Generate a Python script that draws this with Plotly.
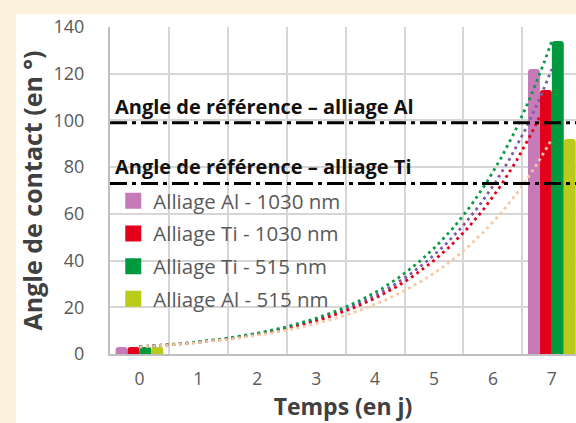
import numpy as np
import plotly.graph_objects as go

# ---- data ----
days = [0, 1, 2, 3, 4, 5, 6, 7]
series_names = ["Alliage Al - 1030 nm", "Alliage Ti - 1030 nm", "Alliage Ti - 515 nm", "Alliage Al - 515 nm"]
al_1030 = [3, None, None, None, None, None, None, 122]
ti_1030 = [3, None, None, None, None, None, None, 113]
ti_515 = [3, None, None, None, None, None, None, 134]
al_515 = [3, None, None, None, None, None, None, 92]
ref_al = 99
ref_ti = 73
ref_labels = ["Angle de référence – alliage Al", "Angle de référence – alliage Ti"]
y_ticks = [0, 20, 40, 60, 80, 100, 120, 140]

bar_colors = ["#C67BB8", "#E2001A", "#009A3E", "#BACB1C"]
trend_colors = ["#7E5BA6", "#E2001A", "#0A9A48", "#F7C7A0"]
series_values = [al_1030, ti_1030, ti_515, al_515]

W, H = 576, 423
ML, MR, MT, MB = 110, 0, 27, 69

fig = go.Figure()

# bars
for name, vals, col in zip(series_names, series_values, bar_colors):
    fig.add_trace(go.Bar(x=days, y=vals, name=name, marker=dict(color=col, cornerradius=3, line=dict(width=0)),
                         showlegend=False))

# exponential trendlines (Excel-style fit on ln(y))
xs = np.linspace(days[0], days[-1], 200)
for name, vals, col in zip(series_names, series_values, trend_colors):
    px = np.array([d for d, v in zip(days, vals) if v is not None], dtype=float)
    py = np.array([v for v in vals if v is not None], dtype=float)
    b, a = np.polyfit(px, np.log(py), 1)
    fig.add_trace(go.Scatter(x=xs, y=np.exp(a) * np.exp(b * xs), mode="lines",
                             line=dict(color=col, width=2.8, dash="2.8px,3.8px"),
                             showlegend=False, hoverinfo="skip"))

# legend entries
for i, (name, col) in enumerate(zip(series_names, bar_colors)):
    fig.add_trace(go.Scatter(x=[None], y=[None], mode="markers", name=name, legendgroup=f"g{i}",
                             marker=dict(symbol="square", size=16, color=col)))

# reference lines
for yv in (ref_al, ref_ti):
    fig.add_shape(type="line", xref="paper", x0=0, x1=1, yref="y", y0=yv, y1=yv,
                  line=dict(color="black", width=3, dash="17px,5px,4px,5px"))
for yv, txt in zip((ref_al, ref_ti), ref_labels):
    fig.add_annotation(xref="paper", x=0.006, yref="y", y=yv, yshift=1, text=f"<b>{txt}</b>",
                       showarrow=False, xanchor="left", yanchor="bottom",
                       font=dict(family="Open Sans", size=20, color="#111111"))

# white panel on cream background
fig.add_shape(type="rect", xref="paper", yref="paper", x0=(16 - ML) / (W - ML - MR), x1=1.05,
              y0=-0.3, y1=(H - MB - 14) / (H - MT - MB), fillcolor="white", line=dict(width=0), layer="below")

fig.update_layout(
    width=W, height=H, margin=dict(l=ML, r=MR, t=MT, b=MB, autoexpand=False),
    paper_bgcolor="#FCF1DA", plot_bgcolor="white",
    barmode="group", bargap=0.19, bargroupgap=0,
    font=dict(family="Open Sans", color="#595959"),
    legend=dict(x=0.007, y=0.529, xanchor="left", yanchor="top", bgcolor="rgba(0,0,0,0)",
                font=dict(size=20.5, color="#595959"), tracegroupgap=3, itemwidth=30),
    xaxis=dict(range=[-0.5, 7.41], tickvals=days, ticktext=[str(d) for d in days],
               showgrid=False, zeroline=False, showline=True, linecolor="#BFBFBF", linewidth=2,
               ticks="", ticklabelstandoff=8, tickfont=dict(size=17.5, color="#595959"),
               minor=dict(tick0=-0.5, dtick=1, showgrid=True, gridcolor="#D6D6D6", gridwidth=2),
               title=dict(text="<b>Temps (en j)</b>", font=dict(size=23, color="#404040"), standoff=3)),
    yaxis=dict(range=[0, 140], tickvals=y_ticks, showgrid=True, gridcolor="#D6D6D6", gridwidth=2,
               zeroline=False, showline=True, linecolor="#BFBFBF", linewidth=2, ticks="",
               ticklabelstandoff=20, tickfont=dict(size=18, color="#595959"),
               title=dict(text="<b>Angle de contact (en °)</b>", font=dict(size=25, color="#404040"), standoff=4)),
)

fig.write_html("out.html", config={"displayModeBar": False},
               post_script="document.body.style.margin='0';document.body.style.padding='0';"
                           "document.body.style.background='#FCF1DA';")
